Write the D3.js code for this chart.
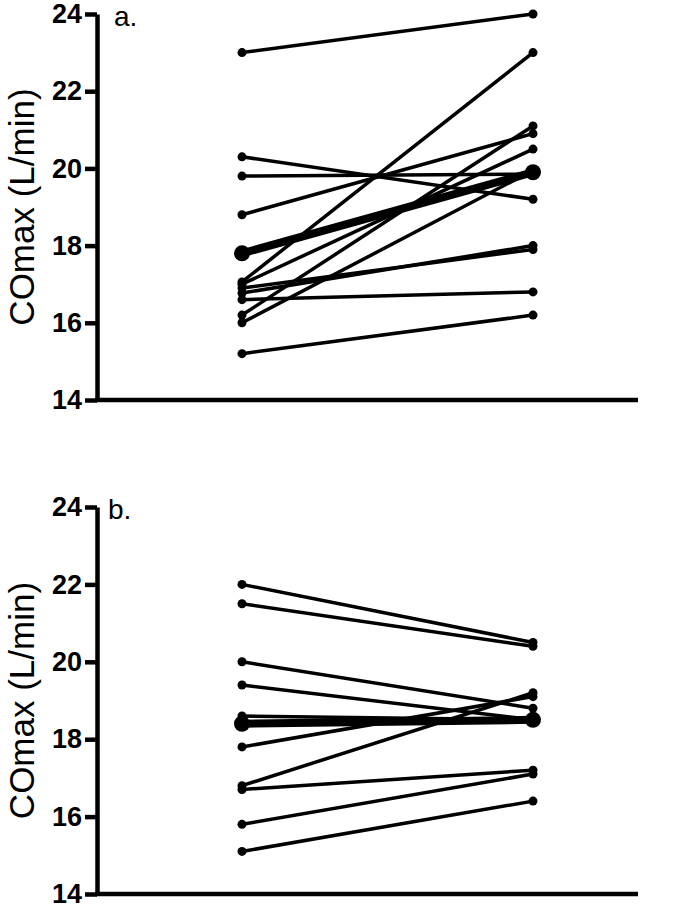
<!DOCTYPE html>
<html>
<head>
    <meta charset="UTF-8">
    <title>COmax pre/post</title>
    <script type="text/javascript" src="https://cdn.jsdelivr.net/npm/d3@7/dist/d3.min.js"></script>
    <style>
        body { margin: 0; background: #fff; }
        svg { display: block; }
    </style>
</head>
<body>
<div class="holder"></div>

<script>
    // panel a: individual subjects, [before, after]
    var preA  = [23.0, 20.3, 19.8, 18.8, 17.06, 17.0, 16.9, 16.77, 16.6, 16.2, 16.0, 15.2];
    var postA = [24.0, 19.2, 19.85, 20.9, 23.0, 20.5, 17.9, 18.0, 16.8, 21.1, 19.95, 16.2];
    var meanA = [17.8, 19.9];

    // panel b
    var preB  = [22.0, 21.5, 20.0, 19.4, 18.6, 17.8, 16.8, 16.7, 15.8, 15.1];
    var postB = [20.5, 20.4, 18.8, 18.5, 18.5, 19.1, 19.2, 17.2, 17.1, 16.4];
    var meanB = [18.4, 18.5];

    var yTicks = [14, 16, 18, 20, 22, 24];
    var yLabel = "COmax (L/min)";
    var panels = [
        {tag: "a.", pre: preA, post: postA, mean: meanA, top: 14, bottom: 400, tagX: 114},
        {tag: "b.", pre: preB, post: postB, mean: meanB, top: 507, bottom: 894, tagX: 108}
    ];

    var svg = d3.select(".holder")
            .append("svg")
            .attr("width", 684)
            .attr("height", 910);

    var x = d3.scaleLinear().domain([0, 1]).range([242, 533]);
    var axisLeft = 97, axisRight = 638;

    panels.forEach(function (p) {
        var y = d3.scaleLinear().domain([14, 24]).range([p.bottom, p.top]);
        var g = svg.append("g");

        // y axis
        var ax = g.append("g")
                .attr("transform", "translate(" + axisLeft + ",0)")
                .call(d3.axisLeft(y).tickValues(yTicks).tickSize(12).tickPadding(3).tickSizeOuter(0));
        ax.select(".domain").attr("stroke", "#000").attr("stroke-width", 4.5);
        ax.selectAll(".tick line").attr("stroke", "#000").attr("stroke-width", 4.5);
        ax.selectAll(".tick text")
                .attr("fill", "#000")
                .style("font-family", "'Liberation Sans', Arial, sans-serif")
                .style("font-weight", "bold")
                .style("font-size", "27px");

        // x axis baseline
        g.append("line")
                .attr("x1", axisLeft - 2).attr("x2", axisRight)
                .attr("y1", y(14)).attr("y2", y(14))
                .attr("stroke", "#000").attr("stroke-width", 4.5);

        // axis title
        g.append("text")
                .attr("transform", "translate(22," + ((p.top + p.bottom) / 2) + ") rotate(-90)")
                .attr("text-anchor", "middle")
                .attr("dy", "0.35em")
                .style("font-family", "'Liberation Sans', Arial, sans-serif")
                .style("font-size", "35px")
                .text(yLabel);

        // panel tag
        g.append("text")
                .attr("x", p.tagX)
                .attr("y", p.top + 2)
                .attr("dy", "0.35em")
                .style("font-family", "'Liberation Sans', Arial, sans-serif")
                .style("font-size", "28px")
                .text(p.tag);

        // subject lines
        var pairs = p.pre.map(function (d, i) { return [d, p.post[i]]; });
        var line = d3.line()
                .x(function (d, i) { return x(i); })
                .y(function (d) { return y(d); });

        g.selectAll("path.subj")
                .data(pairs)
                .enter()
                .append("path")
                .attr("class", "subj")
                .attr("d", line)
                .attr("fill", "none")
                .attr("stroke", "#000")
                .attr("stroke-width", 3.5);

        var pts = [];
        pairs.forEach(function (pr) { pts.push([0, pr[0]], [1, pr[1]]); });
        g.selectAll("circle.subj")
                .data(pts)
                .enter()
                .append("circle")
                .attr("class", "subj")
                .attr("cx", function (d) { return x(d[0]); })
                .attr("cy", function (d) { return y(d[1]); })
                .attr("r", 4.5)
                .attr("fill", "#000");

        // group mean
        g.append("path")
                .datum(p.mean)
                .attr("d", line)
                .attr("fill", "none")
                .attr("stroke", "#000")
                .attr("stroke-width", 8);

        g.selectAll("circle.mean")
                .data(p.mean)
                .enter()
                .append("circle")
                .attr("class", "mean")
                .attr("cx", function (d, i) { return x(i); })
                .attr("cy", function (d) { return y(d); })
                .attr("r", 8)
                .attr("fill", "#000");
    });
</script>
</body>
</html>
